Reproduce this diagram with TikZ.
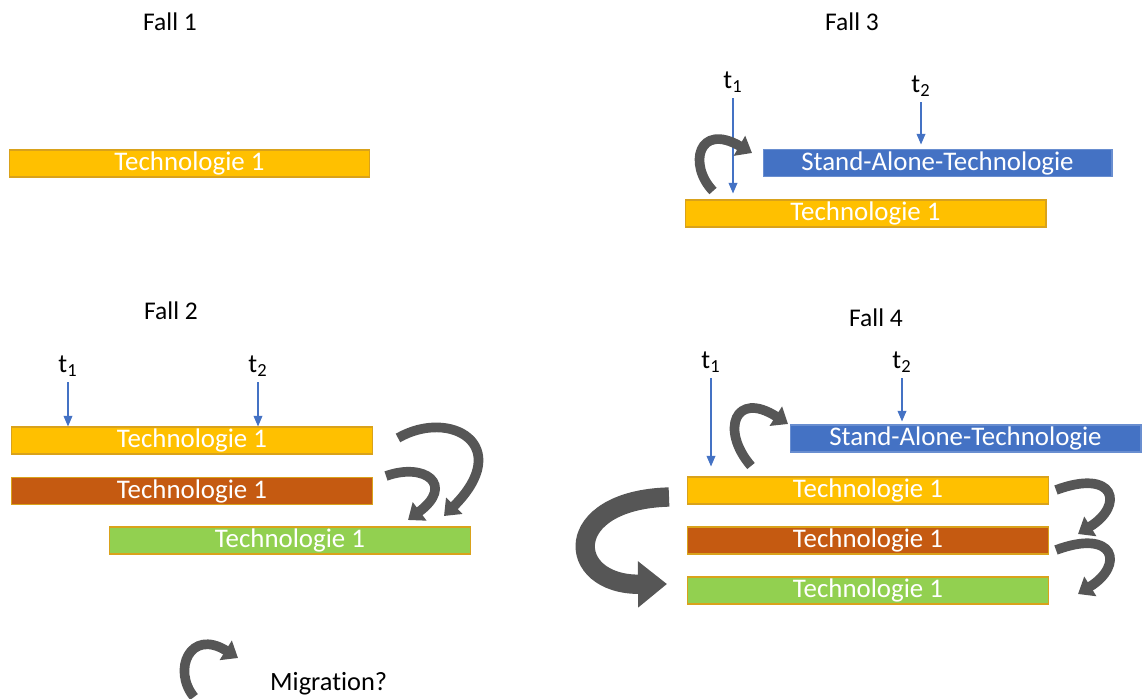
\documentclass[tikz,border=0pt]{standalone}
\usepackage{fontspec}
\setmainfont[Ligatures=NoCommon]{Carlito}
\usetikzlibrary{arrows.meta}
\definecolor{techgelb}{HTML}{FFC000}
\definecolor{techrost}{HTML}{C55A11}
\definecolor{techgruen}{HTML}{92D050}
\definecolor{techblau}{HTML}{4472C4}
\definecolor{rand}{HTML}{D9A21B}
\definecolor{zeit}{HTML}{4472C4}
\definecolor{migrgrau}{HTML}{565656}
\tikzset{
    tech/.style={fill=#1, draw=rand, line width=0.6pt, minimum width=7.22cm, minimum height=0.54cm,
        inner sep=0pt, text=white, font=\fontsize{15.3}{15}\selectfont},
    fall/.style={font=\fontsize{14.5}{15}\selectfont},
    zeitp/.style={font=\fontsize{15}{15}\selectfont},
    zeitpfeil/.style={draw=zeit, line width=0.6pt, -{Triangle[width=5pt,length=6pt]}},
    migr/.style={draw=migrgrau, line width=#1, -{Triangle[width=2.3*#1,length=1.5*#1]}},
    migr/.default=5.5pt
}
\begin{document}
\begin{tikzpicture}[x=0.02cm, y=-0.02cm]
    \useasboundingbox (0,0) rectangle (1142,699);
    % Fall 1
    \node[fall] (fall1) at (170,22) {Fall 1};
    \node[tech=techgelb] (f1gelb) at (189.5,163.5) {Technologie 1};
    % Fall 3
    \node[fall] (fall3) at (852,22) {Fall 3};
    \node[tech=techblau, draw=techblau!80!white, minimum width=6.98cm] (f3blau) at (937.5,163) {Stand-Alone-Technologie};
    \node[tech=techgelb] (f3gelb) at (865.5,213.5) {Technologie 1};
    \node[zeitp] (f3t1) at (733,82) {t\textsubscript{1}};
    \node[zeitp] (f3t2) at (921,86) {t\textsubscript{2}};
    \draw[zeitpfeil] (f3t1.south) -- ++(0,95);
    \draw[zeitpfeil] (f3t2.south) -- ++(0,42);
    \draw[migr] (713,191) .. controls (688,165) and (698,122) .. (752,153);
    % Fall 2
    \node[fall] (fall2) at (171,311) {Fall 2};
    \node[tech=techgelb] (f2gelb) at (192,440.5) {Technologie 1};
    \node[tech=techrost] (f2rost) at (192,491) {Technologie 1};
    \node[tech=techgruen] (f2gruen) at (290,540.5) {Technologie 1};
    \node[zeitp] (f2t1) at (68,366) {t\textsubscript{1}};
    \node[zeitp] (f2t2) at (258,366) {t\textsubscript{2}};
    \draw[zeitpfeil] (f2t1.south) -- ++(0,44);
    \draw[zeitpfeil] (f2t2.south) -- ++(0,44);
    \draw[migr] (398,438) .. controls (450,408) and (515,445) .. (444,516);
    \draw[migr] (386,476) .. controls (425,462) and (455,485) .. (408,520);
    % Fall 4
    \node[fall] (fall4) at (876,318) {Fall 4};
    \node[tech=techblau, draw=techblau!80!white, minimum width=7.02cm] (f4blau) at (965.5,438.5) {Stand-Alone-Technologie};
    \node[tech=techgelb] (f4gelb) at (868,490.5) {Technologie 1};
    \node[tech=techrost] (f4rost) at (868,540.5) {Technologie 1};
    \node[tech=techgruen] (f4gruen) at (868,590.5) {Technologie 1};
    \node[zeitp] (f4t1) at (711,362) {t\textsubscript{1}};
    \node[zeitp] (f4t2) at (902,362) {t\textsubscript{2}};
    \draw[zeitpfeil] (f4t1.south) -- ++(0,88);
    \draw[zeitpfeil] (f4t2.south) -- ++(0,43);
    \draw[migr] (751,466) .. controls (720,430) and (735,390) .. (788,424);
    \draw[migr=11pt] (669,497) .. controls (560,500) and (565,585) .. (667,584);
    \draw[migr] (1056,490) .. controls (1115,468) and (1125,505) .. (1078,534);
    \draw[migr] (1056,550) .. controls (1115,528) and (1125,565) .. (1078,594);
    % Legende
    \draw[migr] (194,697) .. controls (172,670) and (190,628) .. (238,658);
    \node[zeitp, anchor=west] (legende) at (264,684) {Migration?};
\end{tikzpicture}
\end{document}
